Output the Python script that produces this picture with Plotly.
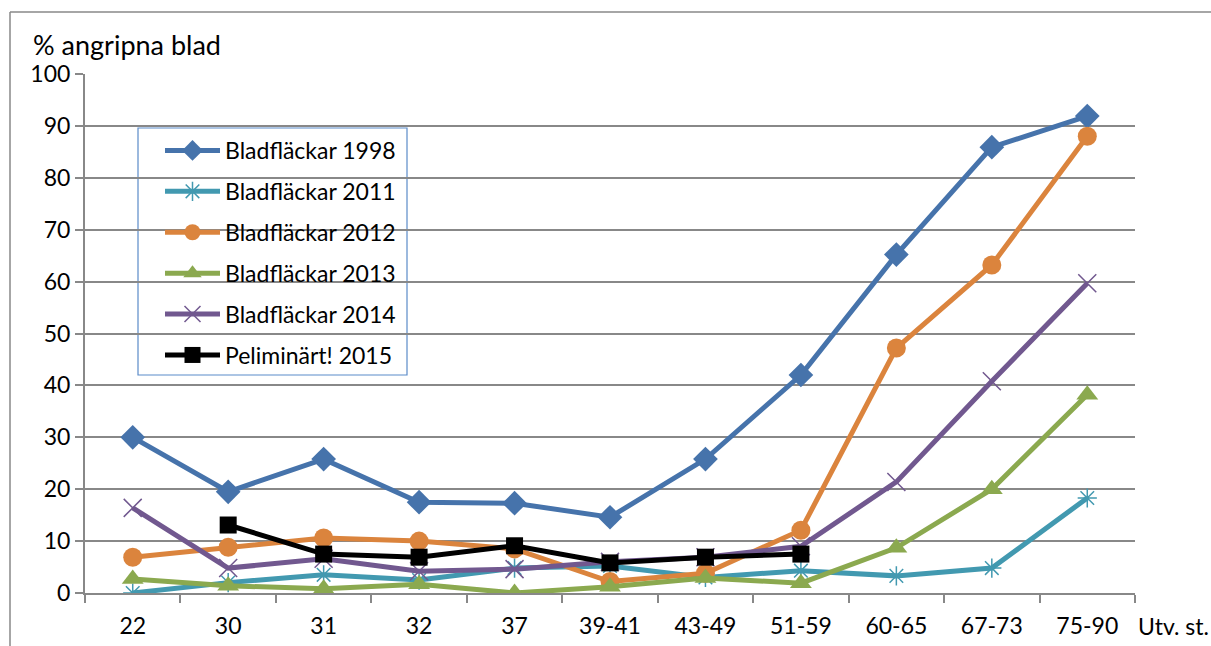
import plotly.graph_objects as go

categories = ["22", "30", "31", "32", "37", "39-41", "43-49", "51-59", "60-65", "67-73", "75-90"]
s1998 = [30.0, 19.5, 25.8, 17.5, 17.3, 14.6, 25.8, 42.0, 65.2, 85.9, 91.9]
s2011 = [0.0, 2.0, 3.5, 2.5, 4.8, 5.2, 3.0, 4.3, 3.3, 4.8, 18.3]
s2012 = [6.9, 8.8, 10.6, 10.0, 8.5, 2.2, 3.8, 12.1, 47.2, 63.2, 88.0]
s2013 = [2.7, 1.4, 0.8, 1.7, 0.0, 1.2, 2.9, 1.9, 8.7, 20.0, 38.2]
s2014 = [16.4, 4.8, 6.6, 4.2, 4.6, 6.0, 6.9, 9.0, 21.4, 40.8, 59.7]
s2015 = [None, 13.1, 7.5, 6.9, 9.1, 5.8, 6.9, 7.5, None, None, None]

series_names = ["Bladfläckar 1998", "Bladfläckar 2011", "Bladfläckar 2012",
                "Bladfläckar 2013", "Bladfläckar 2014", "Peliminärt! 2015"]

W, H = 1211, 646
L, R, T, B = 85, 76, 74, 53
pw, ph = W - L - R, H - T - B

def px(x):
    return (x - L) / pw

def py(y):
    return (H - B - y) / ph

FONT = "Lato, 'Open Sans', sans-serif"

styles = [
    dict(color="#4673AB", symbol="diamond", size=19, lw=0),
    dict(color="#4299B0", symbol="asterisk-open", size=16, lw=1.5),
    dict(color="#DB843D", symbol="circle", size=19, lw=0),
    dict(color="#8BA94F", symbol="triangle-up", size=19, lw=0),
    dict(color="#71588F", symbol="x-thin-open", size=18, lw=1.5),
    dict(color="#000000", symbol="square", size=17, lw=0),
]
data = [s1998, s2011, s2012, s2013, s2014, s2015]

fig = go.Figure()
for i, (name, vals, st) in enumerate(zip(series_names, data, styles)):
    fig.add_trace(go.Scatter(
        x=categories, y=vals, name=name, mode="lines+markers",
        legendgroup=f"g{i}",
        line=dict(color=st["color"], width=5),
        marker=dict(symbol=st["symbol"], size=st["size"], color=st["color"],
                    line=dict(color=st["color"], width=st["lw"])),
        connectgaps=False,
    ))

fig.update_layout(
    width=W, height=H,
    margin=dict(l=L, r=R, t=T, b=B),
    paper_bgcolor="white", plot_bgcolor="white",
    font=dict(family=FONT, size=23, color="black"),
    showlegend=True,
    legend=dict(
        x=px(160), y=py(129), xanchor="left", yanchor="top",
        borderwidth=0, bgcolor="rgba(0,0,0,0)",
        font=dict(family=FONT, size=23, color="black"),
        tracegroupgap=8, traceorder="grouped",
        itemwidth=55,
    ),
    xaxis=dict(
        type="category", range=[-0.5, 10.5], automargin=False,
        showline=True, linecolor="#888888", linewidth=2,
        ticks="outside", tickson="boundaries", ticklen=8, tickwidth=2, tickcolor="#888888",
        showgrid=False, tickfont=dict(size=23), fixedrange=True,
        ticklabelstandoff=11,
    ),
    yaxis=dict(
        range=[0, 100], dtick=10, automargin=False,
        showline=True, linecolor="#888888", linewidth=2,
        ticks="outside", ticklen=8, tickwidth=2, tickcolor="#888888",
        showgrid=True, gridcolor="#888888", gridwidth=2,
        zeroline=False, tickfont=dict(size=23), ticklabelstandoff=0,
    ),
    annotations=[
        dict(text="% angripna blad", xref="paper", yref="paper",
             x=px(31), y=py(45), xanchor="left", yanchor="middle",
             showarrow=False, font=dict(family=FONT, size=27, color="black")),
        dict(text="Utv. st.", xref="paper", yref="paper",
             x=px(1136), y=py(626), xanchor="left", yanchor="middle",
             showarrow=False, font=dict(family=FONT, size=23, color="black")),
    ],
    shapes=[
        dict(type="line", xref="paper", yref="paper",
             x0=px(10), x1=px(1215), y0=py(12), y1=py(12),
             line=dict(color="#888888", width=1.5)),
        dict(type="line", xref="paper", yref="paper",
             x0=px(10), x1=px(10), y0=py(12), y1=py(650),
             line=dict(color="#888888", width=1.5)),
        dict(type="rect", xref="paper", yref="paper",
             x0=px(138), x1=px(407), y0=py(128), y1=py(375),
             line=dict(color="#5B8BC9", width=1.2), fillcolor="white", layer="below"),
    ],
)

fig.write_html("out.html",
               config={"displayModeBar": False},
               post_script="document.body.style.margin='0';document.body.style.overflow='hidden';")
